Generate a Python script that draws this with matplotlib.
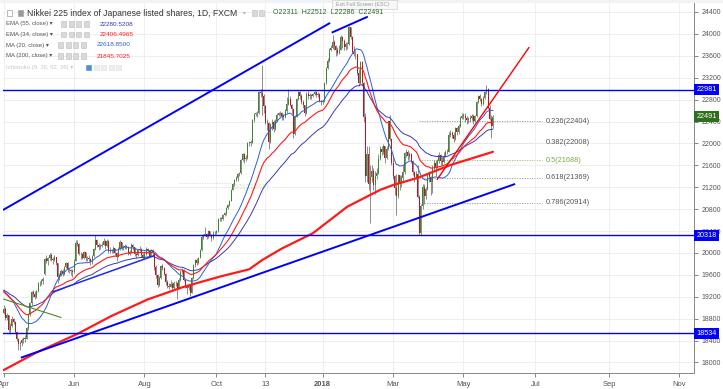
import matplotlib
matplotlib.use("Agg")
import matplotlib.pyplot as plt
from matplotlib.patches import Rectangle
from matplotlib.transforms import blended_transform_factory
import numpy as np
import pandas as pd

plt.rcParams['font.family'] = ['Liberation Sans', 'DejaVu Sans']

# March 2017 closes, only used to warm up the averages
warmup_closes = [19379, 19344, 19254, 19318, 19604, 19633, 19609, 19577, 19590, 19521,
                 19455, 19041, 19085, 19262, 18985, 19202, 19217, 19063, 18909]

# daily bars: (open, high, low, close)
apr_2017 = [(18909, 19050, 18890, 18983), (18983, 19010, 18780, 18810), (18810, 18900, 18780, 18861),
            (18861, 18870, 18560, 18597), (18597, 18720, 18520, 18664), (18664, 18840, 18640, 18797),
            (18797, 18820, 18700, 18747), (18747, 18760, 18530, 18552), (18552, 18580, 18400, 18426),
            (18426, 18440, 18220, 18335), (18335, 18400, 18230, 18355), (18355, 18450, 18300, 18418),
            (18418, 18470, 18360, 18432), (18432, 18500, 18380, 18430), (18430, 18650, 18420, 18620),
            (18620, 18900, 18600, 18875), (18875, 19100, 18850, 19079), (19079, 19300, 19050, 19289),
            (19289, 19320, 19200, 19251), (19251, 19310, 19150, 19196)]
may_2017 = [(19196, 19330, 19180, 19310), (19310, 19460, 19290, 19445), (19445, 19480, 19400, 19445),
            (19445, 19520, 19420, 19480), (19480, 19560, 19440, 19520), (19620, 19900, 19600, 19895),
            (19895, 19960, 19820, 19843), (19843, 19920, 19780, 19900), (19900, 20000, 19870, 19961),
            (19961, 19990, 19850, 19883), (19883, 19920, 19800, 19869), (19869, 19960, 19850, 19919),
            (19919, 19930, 19780, 19814), (19814, 19820, 19450, 19553), (19553, 19640, 19500, 19590),
            (19590, 19700, 19570, 19678), (19678, 19700, 19580, 19613), (19613, 19760, 19600, 19742),
            (19742, 19840, 19720, 19813), (19813, 19830, 19650, 19686), (19686, 19720, 19640, 19682),
            (19682, 19700, 19600, 19677), (19677, 19700, 19560, 19650)]
jun_2017 = [(19650, 19880, 19640, 19860), (19860, 20240, 19850, 20177), (20177, 20230, 20120, 20170),
            (20170, 20180, 19960, 19979), (19979, 20020, 19880, 19984), (19984, 20000, 19880, 19909),
            (19909, 20040, 19890, 20013), (20013, 20020, 19860, 19908), (19908, 19950, 19850, 19898),
            (19898, 19960, 19850, 19883), (19883, 19900, 19770, 19831), (19831, 19970, 19800, 19943),
            (19943, 20090, 19930, 20067), (20067, 20318, 20050, 20230), (20230, 20250, 20100, 20138),
            (20138, 20180, 20060, 20110), (20110, 20170, 20080, 20132), (20132, 20200, 20100, 20153),
            (20153, 20270, 20140, 20225), (20225, 20240, 20080, 20130), (20130, 20250, 20110, 20220),
            (20220, 20230, 19990, 20033)]
jul_2017 = [(20033, 20100, 20000, 20055), (20055, 20080, 19990, 20032), (20032, 20120, 20000, 20081),
            (20081, 20090, 19960, 19994), (19994, 20010, 19860, 19929), (19929, 20100, 19920, 20080),
            (20080, 20230, 20060, 20195), (20195, 20200, 20050, 20098), (20098, 20140, 20060, 20099),
            (20099, 20160, 20070, 20118), (20118, 20140, 20080, 20110), (20110, 20120, 19960, 20000),
            (20000, 20060, 19960, 20020), (20020, 20180, 20000, 20144), (20144, 20160, 20060, 20099),
            (20099, 20100, 19940, 19975), (19975, 20000, 19900, 19955), (19955, 20070, 19940, 20050),
            (20050, 20130, 20030, 20079), (20079, 20090, 19920, 19959), (19959, 19990, 19880, 19925)]
aug_2017 = [(19925, 20030, 19910, 19985), (19985, 20100, 19960, 20080), (20080, 20090, 19990, 20029),
            (20029, 20040, 19920, 19952), (19952, 20070, 19940, 20055), (20055, 20080, 19960, 19996),
            (19996, 20000, 19680, 19738), (19738, 19780, 19550, 19600), (19600, 19620, 19380, 19420),
            (19420, 19580, 19400, 19537), (19537, 19770, 19520, 19753), (19753, 19790, 19690, 19729),
            (19729, 19750, 19600, 19620), (19620, 19640, 19420, 19470), (19470, 19500, 19350, 19393),
            (19393, 19450, 19340, 19383), (19383, 19500, 19370, 19434), (19434, 19460, 19330, 19353),
            (19353, 19480, 19340, 19452), (19452, 19480, 19400, 19449), (19449, 19460, 19150, 19362),
            (19362, 19540, 19350, 19506), (19506, 19680, 19490, 19646)]
sep_2017 = [(19646, 19720, 19620, 19691), (19691, 19700, 19480, 19508), (19508, 19520, 19350, 19385),
            (19385, 19420, 19250, 19357), (19357, 19420, 19320, 19396), (19396, 19410, 19220, 19275),
            (19275, 19560, 19260, 19545), (19545, 19800, 19530, 19776), (19776, 19880, 19750, 19865),
            (19865, 19900, 19780, 19807), (19807, 19930, 19790, 19909), (19909, 20080, 19900, 20050),
            (20050, 20320, 20040, 20299), (20299, 20340, 20250, 20310), (20310, 20480, 20300, 20347),
            (20347, 20360, 20250, 20296), (20296, 20420, 20280, 20397), (20397, 20400, 20300, 20330),
            (20330, 20340, 20220, 20267), (20267, 20400, 20250, 20363), (20363, 20400, 20330, 20356)]
oct_2017 = [(20356, 20420, 20340, 20400), (20400, 20630, 20390, 20614), (20614, 20660, 20590, 20626),
            (20626, 20660, 20580, 20628), (20628, 20710, 20600, 20690), (20690, 20750, 20670, 20720),
            (20720, 20840, 20700, 20823), (20823, 20900, 20800, 20881), (20881, 20970, 20860, 20954),
            (20954, 21170, 20940, 21155), (21155, 21270, 21140, 21255), (21255, 21350, 21230, 21336),
            (21336, 21400, 21320, 21363), (21363, 21460, 21320, 21448), (21448, 21480, 21400, 21457),
            (21457, 21720, 21440, 21697), (21697, 21820, 21680, 21805), (21805, 21830, 21650, 21707),
            (21707, 21780, 21680, 21739), (21739, 22020, 21720, 22008), (22008, 22050, 21950, 22011),
            (22011, 22060, 21960, 22011)]
nov_2017 = [(22011, 22440, 22000, 22420), (22420, 22560, 22400, 22539), (22539, 22580, 22500, 22548),
            (22548, 22600, 22480, 22548), (22548, 22950, 22530, 22937), (22937, 23000, 22850, 22913),
            (22913, 23430, 22520, 22868), (22868, 22900, 22560, 22681), (22681, 22700, 22350, 22380),
            (22380, 22450, 22250, 22380), (22380, 22400, 21900, 22028), (22028, 22380, 22000, 22351),
            (22351, 22450, 22250, 22397), (22397, 22420, 22200, 22261), (22261, 22440, 22240, 22417),
            (22417, 22560, 22400, 22523), (22523, 22580, 22500, 22550), (22550, 22600, 22500, 22550),
            (22550, 22570, 22420, 22495), (22495, 22540, 22430, 22486), (22486, 22620, 22460, 22597),
            (22597, 22850, 22560, 22724)]
dec_2017 = [(22724, 22990, 22700, 22819), (22819, 22870, 22680, 22707), (22707, 22720, 22560, 22622),
            (22622, 22630, 22100, 22177), (22177, 22520, 22150, 22498), (22498, 22830, 22480, 22811),
            (22811, 22960, 22790, 22938), (22938, 22950, 22820, 22866), (22866, 22900, 22720, 22758),
            (22758, 22800, 22650, 22694), (22694, 22700, 22500, 22553), (22553, 22930, 22540, 22901),
            (22901, 22950, 22820, 22868), (22868, 22920, 22820, 22891), (22891, 22900, 22810, 22866),
            (22866, 22920, 22840, 22902), (22902, 22950, 22880, 22939), (22939, 22950, 22850, 22892),
            (22892, 22930, 22850, 22911), (22911, 22920, 22750, 22783), (22783, 22800, 22700, 22764)]
jan_2018 = [(22764, 22800, 22720, 22780), (22780, 23120, 22760, 23100), (23100, 23400, 23080, 23380),
            (23380, 23560, 23350, 23506), (23506, 23740, 23480, 23714), (23714, 23800, 23680, 23750),
            (23750, 23980, 23720, 23849), (23849, 23880, 23700, 23788), (23788, 23800, 23600, 23710),
            (23710, 23760, 23620, 23653), (23653, 23800, 23640, 23714), (23714, 23980, 23700, 23951),
            (23951, 23970, 23750, 23868), (23868, 23900, 23700, 23763), (23763, 23850, 23700, 23808),
            (23808, 23850, 23720, 23816), (23816, 24140, 23800, 24124), (24124, 24130, 23900, 23940),
            (23940, 23960, 23650, 23669), (23669, 23780, 23600, 23631), (23631, 23700, 23550, 23629),
            (23629, 23640, 23250, 23291), (23291, 23350, 23050, 23098)]
feb_2018 = [(23098, 23500, 23080, 23486), (23486, 23500, 23050, 23100), (23100, 23130, 22400, 22480),
            (22480, 22550, 21300, 21400), (21400, 21950, 21300, 21800), (21800, 21950, 21150, 21250),
            (21250, 21600, 20550, 21382), (21382, 21600, 21300, 21500), (21500, 21550, 21150, 21244),
            (21244, 21500, 21080, 21400), (21400, 21550, 21350, 21464), (21464, 21800, 21440, 21720),
            (21720, 21950, 21700, 21900), (21900, 21960, 21780, 21850), (21850, 21980, 21800, 21950),
            (21950, 21960, 21650, 21736), (21736, 21950, 21720, 21892), (21892, 22420, 21880, 22400),
            (22400, 22510, 22050, 22080), (22080, 22100, 21600, 21650)]
mar_2018 = [(21650, 21780, 21350, 21400), (21400, 21420, 21050, 21181), (21181, 21450, 20700, 21042),
            (21042, 21450, 21000, 21417), (21417, 21430, 21150, 21252), (21252, 21420, 21200, 21368),
            (21368, 21600, 21300, 21469), (21469, 21850, 21450, 21824), (21824, 21900, 21750, 21850),
            (21850, 21880, 21700, 21777), (21777, 21850, 21720, 21803), (21803, 21820, 21650, 21676),
            (21676, 21700, 21420, 21480), (21480, 21500, 21300, 21380), (21380, 21500, 21350, 21450),
            (21450, 21600, 21000, 21030), (21030, 21050, 20318, 20360), (20360, 20900, 20330, 20850),
            (20850, 21250, 20800, 21200), (21200, 21250, 20900, 21031), (21031, 21200, 20980, 21159),
            (21159, 21460, 21140, 21454)]
apr_2018 = [(21454, 21500, 21300, 21388), (21388, 21400, 21050, 21292), (21292, 21600, 21100, 21550),
            (21550, 21700, 21500, 21645), (21645, 21700, 21400, 21567), (21567, 21720, 21550, 21678),
            (21678, 21850, 21650, 21794), (21794, 21800, 21600, 21687), (21687, 21750, 21600, 21660),
            (21660, 21850, 21650, 21778), (21778, 21880, 21750, 21835), (21835, 21900, 21800, 21847),
            (21847, 22200, 21840, 22158), (22158, 22250, 22120, 22191), (22191, 22230, 22100, 22162),
            (22162, 22200, 22020, 22088), (22088, 22300, 22070, 22278), (22278, 22300, 22150, 22215),
            (22215, 22350, 22180, 22319), (22319, 22500, 22300, 22467), (22467, 22560, 22440, 22500)]
may_2018 = [(22500, 22560, 22440, 22508), (22508, 22550, 22400, 22472), (22472, 22500, 22350, 22420),
            (22420, 22480, 22380, 22450), (22450, 22520, 22400, 22467), (22467, 22540, 22420, 22508),
            (22508, 22530, 22350, 22408), (22408, 22520, 22390, 22497), (22497, 22780, 22480, 22758),
            (22758, 22880, 22740, 22865), (22865, 22900, 22780, 22818), (22818, 22830, 22680, 22717),
            (22717, 22860, 22700, 22838), (22838, 22950, 22820, 22930), (22930, 23067, 22900, 23002),
            (23002, 23020, 22620, 22650), (22650, 22700, 22420, 22450), (22450, 22520, 22090, 22311),
            (22311, 22512, 22286, 22491)]

# 200-day average (date, value)
ma200_dates = ['2017-04-03', '2017-05-01', '2017-06-05', '2017-07-04', '2017-08-03', '2017-09-04',
               '2017-10-04', '2017-10-30', '2017-11-09', '2017-11-27', '2017-12-22', '2018-01-22',
               '2018-02-19', '2018-03-01', '2018-03-22', '2018-04-19', '2018-05-25']
ma200_values = [17860, 18180, 18520, 18850, 19150, 19380, 19566, 19700, 19870, 20080, 20360, 20844,
                21150, 21240, 21370, 21605, 21846]

# horizontal levels and drawn trend lines: ((date, price), (date, price))
levels = [22981, 20318, 18534]
blue_trends = [(('2017-04-03', 20791), ('2018-01-05', 24192)),
               (('2017-04-18', 18091), ('2018-06-13', 21253))]
top_trend = (('2018-01-09', 24030), ('2018-02-07', 24308))
support_trend = (('2017-05-15', 19289), ('2017-08-09', 19950))
green_trend = (('2017-04-03', 19156), ('2017-05-22', 18821))
red_trend = (('2018-04-09', 21345), ('2018-06-26', 23750))

fib_ratios = ['0.236', '0.382', '0.5', '0.618', '0.786']
fib_prices = [22404, 22008, 21688, 21369, 20914]
fib_span = ('2018-03-23', '2018-07-06')
old_fib = ('0.5', 21268, '2017-08-30', '2017-10-13')

tick_dates = ['2017-04-03', '2017-06-01', '2017-08-01', '2017-10-02', '2017-11-13', '2018-01-01',
              '2018-03-01', '2018-05-01', '2018-07-02', '2018-09-03', '2018-11-01']
tick_labels = ['Apr', 'Jun', 'Aug', 'Oct', '13', '2018', 'Mar', 'May', 'Jul', 'Sep', 'Nov']

legend_rows = [('EMA (55, close)', '22280.5208', '#3a3ab0'),
               ('EMA (34, close)', '22406.4965', '#ff1a1a'),
               ('MA (20, close)', '22618.8500', '#2c5fcf'),
               ('MA (200, close)', '21845.7025', '#ff1a1a')]
ohlc_text = 'O22311  H22512  L22286  C22491'
last_close = 22491

# ---------------------------------------------------------------
bars = (apr_2017 + may_2017 + jun_2017 + jul_2017 + aug_2017 + sep_2017 + oct_2017 +
        nov_2017 + dec_2017 + jan_2018 + feb_2018 + mar_2018 + apr_2018 + may_2018)
df = pd.DataFrame(bars, columns=['open', 'high', 'low', 'close'])
days = pd.bdate_range('2017-04-03', '2018-12-31')
df.index = days[:len(df)]
x = np.arange(len(df))


def pos(d):
    return days.get_indexer([pd.Timestamp(d)])[0]


allc = pd.Series(warmup_closes + df['close'].tolist())
n0 = len(warmup_closes)
ema55 = allc.ewm(span=55, adjust=False).mean().values[n0:]
ema34 = allc.ewm(span=34, adjust=False).mean().values[n0:]
ma20 = allc.rolling(20).mean().values[n0:]

W, H = 723, 389
fig = plt.figure(figsize=(W / 100, H / 100), dpi=100)
ax = fig.add_axes([3 / W, (H - 373) / H, 691 / W, 373 / H])

ax.set_xlim(-0.43, 421.9)
ax.set_ylim(24400 - 361 / 0.05475, 24400 + 12 / 0.05475)

# grid
ax.set_xticks([pos(d) for d in tick_dates])
ax.set_xticklabels(tick_labels)
for t in ax.get_xticklabels():
    if t.get_text() == '2018':
        t.set_fontweight('bold')
ax.set_yticks(np.arange(18000, 24401, 400))
ax.grid(color='#ececec', lw=0.6, zorder=0)
ax.yaxis.tick_right()
ax.tick_params(axis='y', length=3, pad=2.5, labelsize=5.0, colors='#555555', width=0.5)
ax.tick_params(axis='x', length=3, pad=3, labelsize=5.5, colors='#555555', width=0.5)
for s in ['top', 'left']:
    ax.spines[s].set_visible(False)
for s in ['right', 'bottom']:
    ax.spines[s].set_color('#888888')
    ax.spines[s].set_linewidth(0.7)

# fib levels
f0, f1 = pos(fib_span[0]), pos(fib_span[1])
for r, p in zip(fib_ratios, fib_prices):
    col = '#7aa84a' if r == '0.5' else '#777777'
    ax.hlines(p, f0, f1, colors=col, lw=0.6, linestyles=(0, (1.5, 1.5)), zorder=1, alpha=0.8)
    ax.text(f1 + 2, p, '%s(%d)' % (r, p), fontsize=5.3, color='#7aa84a' if r == '0.5' else '#555555',
            va='center', ha='left')
ax.hlines(old_fib[1], pos(old_fib[2]), pos(old_fib[3]), colors='#cfe0bd', lw=0.6,
          linestyles=(0, (1.5, 1.5)), zorder=1)
ax.text(pos(old_fib[3]) + 1.5, old_fib[1] - 80, '%s(%d)' % (old_fib[0], old_fib[1]), fontsize=5.3,
        color='#d6e6c6', va='center', ha='left', zorder=1)

# candles
up = df['close'] >= df['open']
ax.vlines(x, df['low'], df['high'], color='#6e6e6e', lw=0.55, zorder=3)
body = (df['close'] - df['open']).abs().clip(lower=10)
ax.bar(x, body, bottom=np.minimum(df['open'], df['close']), width=0.62,
       color=np.where(up, '#3b8a27', '#c3121c'), lw=0, zorder=4)

# averages
ax.plot(x, ma20, color='#2c5fcf', lw=0.7, zorder=5)
ax.plot(x, ema55, color='#3a3ab0', lw=0.7, zorder=5)
ax.plot(x, ema34, color='#ff1a1a', lw=0.8, zorder=5)
ax.plot([pos(d) for d in ma200_dates], ma200_values, color='#ff1a1a', lw=1.6, zorder=5,
        solid_capstyle='round', solid_joinstyle='round')

# drawings
for p in levels:
    ax.axhline(p, color='#0000ff', lw=1.0, zorder=6)


def seg(s, **kw):
    (d0, p0), (d1, p1) = s
    ax.plot([pos(d0), pos(d1)], [p0, p1], zorder=6, **kw)


for s in blue_trends:
    seg(s, color='#0000ff', lw=1.4)
seg(top_trend, color='#0000ff', lw=1.4)
seg(support_trend, color='#1a2fe6', lw=1.1)
seg(green_trend, color='#4f8a1f', lw=0.8)
seg(red_trend, color='#ff0000', lw=1.0)

# price labels on the right axis
tr = blended_transform_factory(ax.transAxes, ax.transData)
for p, bg in [(22981, '#0000ff'), (last_close, '#2f6f1c'), (20318, '#0000ff'), (18534, '#0000ff')]:
    ax.text(1.0 + 2.5 / 691, p, '%d' % p, transform=tr, fontsize=5.2, color='white', va='center',
            ha='left', zorder=10, clip_on=False,
            bbox=dict(boxstyle='square,pad=0.28', fc=bg, ec='none'))


# header
def ftext(px, py, s, **kw):
    fig.text(px / W, 1 - py / H, s, va='center', ha='left', **kw)


def icon(px, py, fc='#d9d9d9', ec='#bdbdbd'):
    fig.patches.append(Rectangle((px / W, 1 - (py + 2.5) / H), 5 / W, 5 / H, transform=fig.transFigure,
                                 fc=fc, ec=ec, lw=0.4))


fig.patches.append(Rectangle((0, 1 - 3 / H), 1, 3 / H, transform=fig.transFigure, fc='#f0f3f6', ec='none'))
icon(7, 13, fc='white', ec='#888888')
icon(18, 13, fc='#999999', ec='#999999')
ftext(27, 13, 'Nikkei 225 index of Japanese listed shares, 1D, FXCM', fontsize=6.2, color='#333333')
ftext(243, 13, '\u25be', fontsize=4, color='#aaaaaa')
icon(252, 13)
icon(259, 13)
ftext(273, 13, ohlc_text, fontsize=5, color='#2b6a2b')

rows_y = [24, 34.5, 45, 56]
for (name, val, col), py in zip(legend_rows, rows_y):
    ftext(6, py, name + ' \u25be', fontsize=4.3, color='#555555')
    x0 = 61 if 'EMA' in name else (58 if '20' in name else 62)
    for k in range(4):
        icon(x0 + k * 7.5, py)
    ftext(x0 + 39, py, val, fontsize=4.6, color=col)
ftext(6, 67, 'Ichimoku (9, 26, 52, 26) \u25be', fontsize=4.3, color='#c8c8c8')
icon(86, 67, fc='#4a90d9', ec='#4a90d9')
for k in range(1, 5):
    icon(86 + k * 7.5, 67, fc='#eeeeee', ec='#dddddd')

fig.patches.append(Rectangle((332 / W, 1 - 9 / H), 65 / W, 9 / H, transform=fig.transFigure,
                             fc='#f7f7f7', ec='#d0d0d0', lw=0.5))
ftext(336, 4.5, 'Exit Full Screen (ESC)', fontsize=3.8, color='#999999')

fig.savefig('out.png', dpi=100)
